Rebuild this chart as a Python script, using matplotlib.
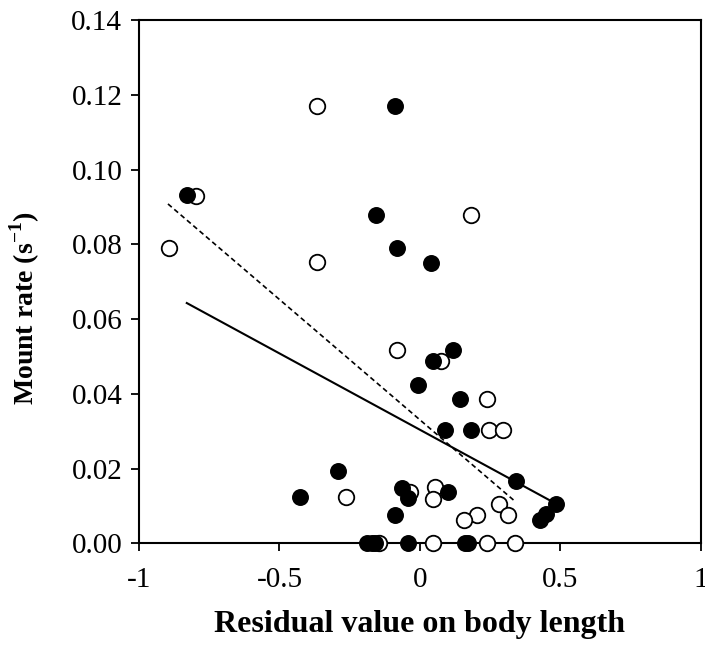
import numpy as np
import matplotlib
matplotlib.use('Agg')
import matplotlib.pyplot as plt

plt.rcParams['font.family'] = ['Liberation Serif', 'DejaVu Serif']
plt.rcParams['mathtext.fontset'] = 'custom'
plt.rcParams['mathtext.rm'] = 'Liberation Serif'
plt.rcParams['mathtext.bf'] = 'Liberation Serif:bold'

# filled circles
filled_x = [-0.830, -0.088, -0.158, -0.080, 0.039, -0.006, 0.119, 0.048, 0.143,
            0.089, 0.182, 0.342, 0.485, 0.449, 0.428, -0.293, -0.428, -0.065,
            -0.042, -0.089, 0.099, -0.190, -0.172, -0.160, -0.042, 0.160, 0.170]
filled_y = [0.0931, 0.117, 0.0879, 0.0789, 0.075, 0.0423, 0.0518, 0.0489, 0.0387,
            0.0303, 0.0303, 0.0168, 0.0106, 0.0079, 0.0064, 0.0193, 0.0125, 0.0149,
            0.0122, 0.0076, 0.0137, 0.0, 0.0, 0.0, 0.0, 0.0, 0.0]

# open circles
open_x = [-0.365, -0.796, -0.895, -0.365, 0.182, -0.083, 0.075, 0.238, 0.244,
          0.295, 0.283, 0.313, 0.202, 0.157, -0.265, -0.036, 0.053, 0.045,
          -0.145, 0.045, 0.238, 0.339]
open_y = [0.117, 0.093, 0.079, 0.0752, 0.0879, 0.0518, 0.0489, 0.0387, 0.0303,
          0.0303, 0.0106, 0.0076, 0.0075, 0.0062, 0.0125, 0.0138, 0.0150, 0.0120,
          0.0, 0.0, 0.0, 0.0]

# regression lines (end points)
solid_x = [-0.830, 0.463]
solid_y = [0.0643, 0.0115]
dash_x = [-0.897, 0.341]
dash_y = [0.0908, 0.0111]

xticks = [-1, -0.5, 0, 0.5, 1]
xticklabels = ['-1', '-0.5', '0', '0.5', '1']
yticks = np.arange(0, 0.141, 0.02)

fig = plt.figure(figsize=(7.05, 6.48), dpi=100)
ax = fig.add_axes([0.1972, 0.1613, 0.797, 0.8079])

ax.plot(solid_x, solid_y, color='black', lw=1.5, zorder=2)
ax.plot(dash_x, dash_y, color='black', lw=1.2, ls=(0, (3, 2)), zorder=2)

ax.scatter(open_x, open_y, s=125, facecolors='white', edgecolors='black',
           linewidths=1.3, zorder=3, clip_on=False)
ax.scatter(filled_x, filled_y, s=125, facecolors='black', edgecolors='black',
           linewidths=1.0, zorder=4, clip_on=False)

ax.set_xlim(-1, 1)
ax.set_ylim(0, 0.14)
ax.set_xticks(xticks)
ax.set_xticklabels(xticklabels)
ax.set_yticks(yticks)
ax.set_yticklabels([f'{v:.2f}' for v in yticks])

for sp in ax.spines.values():
    sp.set_linewidth(1.5)
ax.tick_params(direction='out', length=6, width=1.3, labelsize=21)
ax.tick_params(axis='x', pad=11)
ax.tick_params(axis='y', pad=6)

ax.set_xlabel('Residual value on body length', fontsize=23, fontweight='bold', labelpad=12)
ax.set_ylabel(r'Mount rate (s$^{\mathbf{-1}}$)', fontsize=20, fontweight='bold')
ax.yaxis.set_label_coords(-0.173, 0.45)

fig.savefig('out.png', dpi=100)
